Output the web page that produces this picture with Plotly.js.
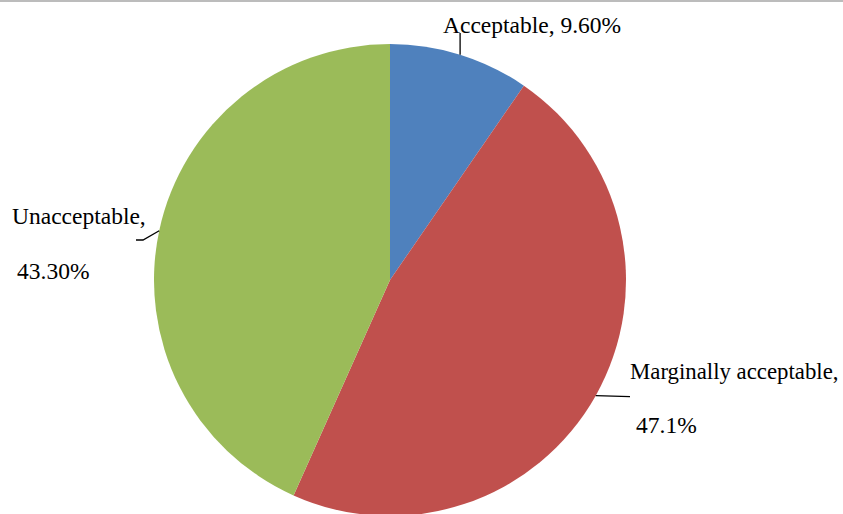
<!DOCTYPE html>
<html>
<head>
<meta charset="utf-8">
<script src="https://cdn.plot.ly/plotly-3.0.1.min.js"></script>
<style>
  html, body { margin: 0; padding: 0; overflow: hidden; background: #fff; }
  #chart { width: 843px; height: 520px; }
</style>
</head>
<body>
<div id="chart"></div>
<script>
// Ratings split across the three acceptability classes
const categories = ['Acceptable', 'Marginally acceptable', 'Unacceptable'];
const shares = [9.6, 47.1, 43.3];
const shareLabels = ['9.60%', '47.1%', '43.30%'];
const sliceColors = ['#4F81BD', '#C0504D', '#9BBB59'];

// Figure geometry (pixels)
const W = 843, H = 520;
const cx = 390, cy = 280, R = 236;
const px = x => x / W;
const py = y => 1 - y / H;

// Rim point at the middle of each slice (clockwise from 12 o'clock)
const total = shares.reduce((a, b) => a + b, 0);
let cum = 0;
const rim = shares.map(v => {
  const mid = (cum + v / 2) / total * 2 * Math.PI;
  cum += v;
  return { x: cx + R * Math.sin(mid), y: cy - R * Math.cos(mid) };
});

const serif = "'Liberation Serif', 'Times New Roman', serif";

// Label text blocks: [text, left x, middle y, font size]
const labelBlocks = [
  [[categories[0] + ', ' + shareLabels[0], 441, 25, 23.5]],
  [[categories[1] + ',', 628, 371, 22.8], [shareLabels[1], 634, 425, 23.5]],
  [[categories[2] + ',', 10, 216, 23.5], [shareLabels[2], 15, 271, 23.5]]
];

const annotations = [];
labelBlocks.forEach(block => block.forEach(([t, x, y, s]) => {
  annotations.push({
    text: t, x: px(x), y: py(y), xref: 'paper', yref: 'paper',
    xanchor: 'left', yanchor: 'middle', showarrow: false,
    font: { family: serif, size: s, color: '#000' }
  });
}));

// Leader lines from each slice's rim to its label
const leaderEnds = [
  [[rim[0].x, 33]],
  [[630, rim[1].y + 1]],
  [[143, 240], [136, 240]]
];
const shapes = leaderEnds.map((pts, i) => {
  let d = 'M' + px(rim[i].x) + ',' + py(rim[i].y);
  pts.forEach(p => { d += ' L' + px(p[0]) + ',' + py(p[1]); });
  return { type: 'path', path: d, xref: 'paper', yref: 'paper',
           line: { color: '#000', width: 1.3 } };
});

// Thin grey rule along the top edge
shapes.push({ type: 'line', xref: 'paper', yref: 'paper',
  x0: 0, x1: 1, y0: py(1), y1: py(1), line: { color: '#A6A6A6', width: 1.5 } });

const trace = {
  type: 'pie',
  labels: categories,
  values: shares,
  sort: false,
  direction: 'clockwise',
  rotation: 0,
  textinfo: 'none',
  hoverinfo: 'label+percent',
  marker: { colors: sliceColors, line: { width: 0 } },
  domain: { x: [px(cx - R), px(cx + R)], y: [py(cy + R), py(cy - R)] },
  showlegend: false
};

const layout = {
  width: W, height: H,
  margin: { l: 0, r: 0, t: 0, b: 0 },
  paper_bgcolor: '#fff',
  showlegend: false,
  annotations: annotations,
  shapes: shapes
};

Plotly.newPlot('chart', [trace], layout, { displayModeBar: false, staticPlot: true });
</script>
</body>
</html>
